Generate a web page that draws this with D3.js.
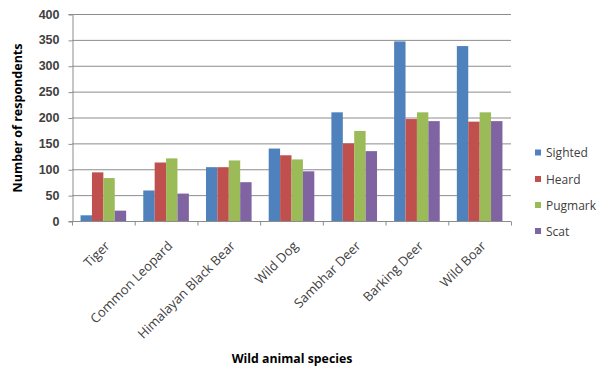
<!DOCTYPE html>
<html><head><meta charset="utf-8">
<script src="https://cdn.jsdelivr.net/npm/d3@7/dist/d3.min.js"></script>
<style>body{margin:0;background:#fff;} svg{display:block;font-family:"Open Sans",sans-serif;}</style>
</head><body>
<svg id="c" width="609" height="368"></svg>
<script>
const categories = ["Tiger","Common Leopard","Himalayan Black Bear","Wild Dog","Sambhar Deer","Barking Deer","Wild Boar"];
const seriesNames = ["Sighted","Heard","Pugmark","Scat"];
const sighted = [11, 59, 104, 140, 210, 347, 338];
const heard   = [94, 113, 104, 127, 150, 197, 192];
const pugmark = [83, 121, 117, 119, 174, 210, 210];
const scat    = [20, 53, 75, 96, 135, 193, 193];
const yTicks = [0,50,100,150,200,250,300,350,400];
const colors = ["#4F81BD","#C0504D","#9BBB59","#8064A2"];
const seriesValues = [sighted, heard, pugmark, scat];

const svg = d3.select("#c");
const m = {left:72, right:511, top:14, bottom:221};
const x = d3.scaleBand().domain(categories).range([m.left, m.right]).padding(0);
const xs = d3.scaleBand().domain(seriesNames).range([0, x.bandwidth()]).paddingOuter(0.75).paddingInner(0);
const y = d3.scaleLinear().domain([0,400]).range([m.bottom, m.top]);

// gridlines
svg.append("g").selectAll("line").data(yTicks.filter(d=>d>0)).join("line")
  .attr("x1", m.left).attr("x2", m.right)
  .attr("y1", d=>y(d)+0.5).attr("y2", d=>y(d)+0.5)
  .attr("stroke", "#8c8c8c").attr("stroke-width", 1);

// y axis
const yAxis = svg.append("g").attr("transform", `translate(${m.left+0.5},0)`)
  .call(d3.axisLeft(y).tickValues(yTicks).tickSize(4).tickPadding(9));
yAxis.select(".domain").attr("stroke", "#8c8c8c");
yAxis.selectAll(".tick line").attr("stroke", "#8c8c8c").attr("transform","translate(0,0.5)");
yAxis.selectAll("text").attr("fill","#404040").attr("font-size","12.5px").attr("font-weight","600");

// bars
const g = svg.append("g");
categories.forEach((c, i) => {
  seriesNames.forEach((s, j) => {
    const v = seriesValues[j][i];
    g.append("rect")
      .attr("x", x(c) + xs(s))
      .attr("y", y(v))
      .attr("width", xs.bandwidth())
      .attr("height", y(0) - y(v))
      .attr("fill", colors[j]);
  });
});

// x axis
const xAxis = svg.append("g").attr("transform", `translate(0,${m.bottom+0.5})`);
xAxis.append("line").attr("x1", m.left).attr("x2", m.right).attr("stroke","#8c8c8c");
const xb = categories.map(c => x(c)).concat([m.right]);
xAxis.selectAll("line.tk").data(xb).join("line").attr("class","tk")
  .attr("x1", d=>d+0.5).attr("x2", d=>d+0.5).attr("y1",0).attr("y2",4).attr("stroke","#8c8c8c");
xAxis.selectAll("text").data(categories).join("text")
  .attr("transform", d => `translate(${x(d)+x.bandwidth()/2+4},${22}) rotate(-45)`)
  .attr("text-anchor","end").attr("dy","0.35em")
  .attr("fill","#404040").attr("font-size","13px")
  .text(d=>d);

// axis titles
svg.append("text").attr("transform","translate(22,118) rotate(-90)")
  .attr("text-anchor","middle").attr("font-weight","bold").attr("font-size","12.5px").attr("fill","#000")
  .text("Number of respondents");
svg.append("text").attr("x", 292).attr("y", 363)
  .attr("text-anchor","middle").attr("font-weight","bold").attr("font-size","12.3px").attr("fill","#000")
  .text("Wild animal species");

// legend
const leg = svg.append("g");
const legY = [153, 179.5, 205.5, 231.5];
seriesNames.forEach((s, j) => {
  leg.append("rect").attr("x", 535).attr("y", legY[j]-3.5).attr("width", 6).attr("height", 6).attr("fill", colors[j]);
  leg.append("text").attr("x", 546).attr("y", legY[j]).attr("dy","0.35em")
    .attr("font-size","12px").attr("fill","#404040").text(s);
});
</script>
</body></html>
